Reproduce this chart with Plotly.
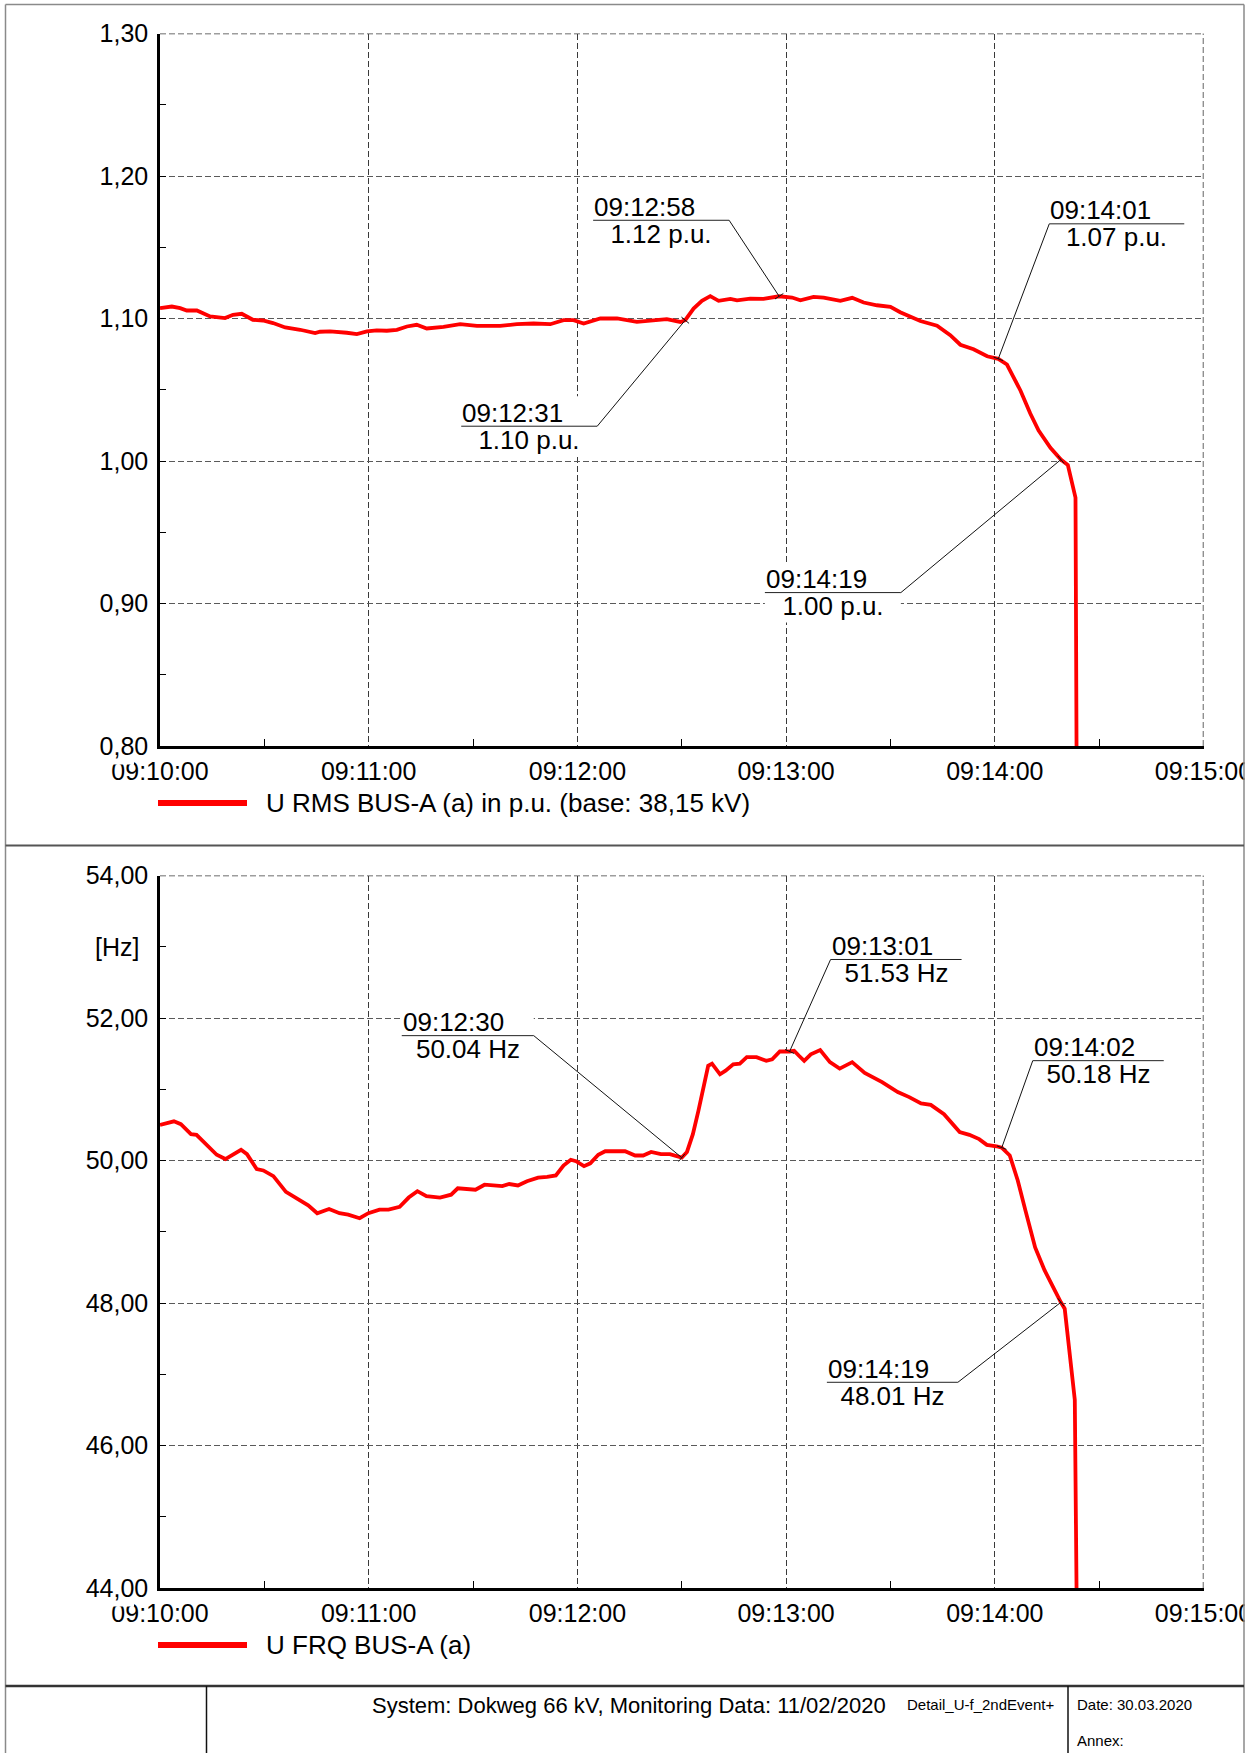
import math
import pandas as pd
import plotly.graph_objects as go

# ---------------------------------------------------------------- data
START = "2020-02-11 09:10:00"

# U RMS BUS-A (a), seconds after 09:10:00 and value in p.u.
u_seconds = [0, 3.4, 5.8, 7.7, 10.6, 14.4, 18.7, 21.0, 23.5, 26.7,
             29.6, 32.5, 36.0, 40.3, 44.6, 46.0, 48.9, 51.8, 53.7, 56.6,
             59.5, 62.3, 65.2, 68.1, 71.0, 73.8, 76.7, 81.5, 86.3, 91.1,
             97.8, 102.6, 107.4, 112.2, 116.0, 118.9, 121.8, 126.6, 131.4, 137.1,
             141.9, 145.7, 149.6, 151, 153.4, 155.8, 158.2, 160.6, 164.0, 165.9,
             169.7, 173.5, 178, 181.7, 184.1, 187.9, 190.8, 195.6, 199.0, 202.3,
             206.1, 210.0, 212.8, 218.6, 223.4, 227.2, 230.1, 233.9, 237.8, 241,
             243.5, 247.4, 250.2, 252.6, 256.0, 259, 261.0, 263.2, 263.5]
u_pu = [1.1073, 1.1084, 1.1073, 1.1056, 1.1056, 1.1014, 1.1003, 1.1026, 1.1033, 1.0991,
        1.0986, 1.0968, 1.0937, 1.0921, 1.0898, 1.0907, 1.0909, 1.0905, 1.0900, 1.0891,
        1.0909, 1.0916, 1.0914, 1.0920, 1.0944, 1.0956, 1.0930, 1.0941, 1.0960, 1.0948,
        1.0948, 1.0960, 1.0965, 1.0960, 1.0988, 1.0988, 1.0965, 1.1000, 1.1000, 1.0976,
        1.0988, 1.0995, 1.0976, 1.0988, 1.1070, 1.1124, 1.1157, 1.1124, 1.1138, 1.1128,
        1.1140, 1.1138, 1.1156, 1.1147, 1.1128, 1.1152, 1.1147, 1.1124, 1.1145, 1.1112,
        1.1093, 1.1082, 1.1044, 1.0982, 1.0950, 1.0883, 1.0816, 1.0784, 1.0735, 1.0717,
        1.0677, 1.0493, 1.0333, 1.0213, 1.0092, 1.0010, 0.9972, 0.9743, 0.8000]

# U FRQ BUS-A (a), seconds after 09:10:00 and value in Hz
f_seconds = [0, 4.0, 6.0, 8.9, 10.5, 13.7, 16.3, 18.8, 20.7, 23.3,
             25.0, 27.8, 29.7, 32.6, 36.2, 40.0, 42.6, 45.2, 48.6, 51.6,
             54.1, 57.4, 59.9, 63.1, 65.7, 68.9, 71.5, 74.0, 76.6, 80.5,
             83.7, 85.6, 90.7, 93.3, 98.4, 100.4, 102.9, 105.5, 108.7, 111.3,
             113.8, 116.0, 118.1, 119.6, 121.9, 123.7, 126.0, 128.0, 133.7, 136.6,
             138.9, 141.2, 144.0, 146.6, 150, 151.5, 153.2, 154.8, 156.5, 157.6,
             158.7, 161.0, 162.6, 164.8, 166.7, 168.7, 171.5, 174.3, 176.0, 178.2,
             181, 182.3, 183.7, 185.2, 187.1, 189.8, 192.6, 195.4, 199.0, 202.6,
             207.6, 212.1, 215.4, 218.8, 221.6, 225.4, 229.9, 232.7, 235.5, 237.7,
             240.5, 242, 244.3, 246.6, 248.8, 251.6, 254.3, 257.1, 259, 260.1,
             261.6, 263.0, 263.5]
f_hz = [50.50, 50.55, 50.51, 50.37, 50.36, 50.20, 50.08, 50.02, 50.08, 50.15,
        50.09, 49.88, 49.86, 49.78, 49.56, 49.44, 49.37, 49.26, 49.32, 49.26,
        49.24, 49.19, 49.26, 49.31, 49.31, 49.35, 49.48, 49.57, 49.50, 49.48,
        49.52, 49.61, 49.59, 49.66, 49.64, 49.67, 49.65, 49.71, 49.76, 49.77,
        49.79, 49.93, 50.01, 49.99, 49.92, 49.96, 50.08, 50.13, 50.13, 50.07,
        50.07, 50.12, 50.09, 50.09, 50.04, 50.12, 50.37, 50.70, 51.10, 51.33,
        51.36, 51.21, 51.26, 51.35, 51.36, 51.45, 51.45, 51.40, 51.42, 51.53,
        51.53, 51.54, 51.47, 51.40, 51.49, 51.55, 51.38, 51.29, 51.38, 51.23,
        51.10, 50.96, 50.89, 50.80, 50.78, 50.65, 50.40, 50.36, 50.30, 50.22,
        50.20, 50.18, 50.07, 49.72, 49.30, 48.78, 48.46, 48.18, 48.01, 47.92,
        47.20, 46.64, 44.00]

assert len(u_seconds) == len(u_pu)
assert len(f_seconds) == len(f_hz)

# marked samples (seconds after 09:10:00)
u_marked = [151, 178, 241, 259]
f_marked = [150, 181, 242, 259]

u_legend = "U RMS BUS-A (a) in p.u. (base: 38,15 kV)"
f_legend = "U FRQ BUS-A (a)"
u_ticks = [0.80, 0.90, 1.00, 1.10, 1.20, 1.30]
f_ticks = [44, 46, 48, 50, 52, 54]
footer_system = "System: Dokweg 66 kV, Monitoring Data: 11/02/2020"
footer_file = "Detail_U-f_2ndEvent+"
footer_date = "Date: 30.03.2020"
footer_annex = "Annex:"

# ---------------------------------------------------------------- layout constants
W, H = 1256, 1753
FONT = "Liberation Sans, Arial, sans-serif"
RED = "#ff0000"
VGRID = "#3a3a3a"
HGRID = "#5a5a5a"
DASH = "6px,3px"


def px(x):
    return x / W


def py(y):
    return 1 - y / H


t0 = pd.Timestamp(START)


def stamps(secs):
    return [t0 + pd.Timedelta(seconds=s) for s in secs]


u_t = stamps(u_seconds)
f_t = stamps(f_seconds)

X_DOMAIN = [px(160), px(1203.5)]
TOP_DOMAIN = [py(746), py(33.5)]
BOT_DOMAIN = [py(1588), py(875.5)]

fig = go.Figure()
fig.add_trace(go.Scatter(x=u_t, y=u_pu, mode="lines", name=u_legend,
                         line=dict(color=RED, width=3.8), xaxis="x", yaxis="y",
                         showlegend=False))
fig.add_trace(go.Scatter(x=f_t, y=f_hz, mode="lines", name=f_legend,
                         line=dict(color=RED, width=3.8), xaxis="x2", yaxis="y2",
                         showlegend=False))

x_range = [t0, t0 + pd.Timedelta(minutes=5)]


def xaxis_style(anchor):
    return dict(
        domain=X_DOMAIN, anchor=anchor, type="date", range=x_range,
        tick0=t0, dtick=60000, tickformat="%H:%M:%S",
        showgrid=True, gridcolor=VGRID, gridwidth=1, griddash=DASH,
        showline=True, linecolor="black", linewidth=2.5,
        ticks="", ticklabelstandoff=1, automargin=False,
        minor=dict(dtick=30000, tick0=t0, ticks="inside", ticklen=7,
                   tickcolor="black", tickwidth=1, showgrid=False),
        tickfont=dict(family=FONT, size=25, color="black"),
        zeroline=False, fixedrange=True,
    )


def yaxis_style(anchor, domain, rng, dtick, minor_dtick):
    return dict(
        domain=domain, anchor=anchor, range=rng, dtick=dtick, tick0=rng[0],
        tickformat=".2f",
        showgrid=True, gridcolor=HGRID, gridwidth=1, griddash=DASH,
        showline=True, linecolor="black", linewidth=2.5,
        ticks="inside", ticklen=6, tickcolor="black", tickwidth=1,
        ticklabelstandoff=4, automargin=False,
        minor=dict(dtick=minor_dtick, ticks="inside", ticklen=6,
                   tickcolor="black", tickwidth=1, showgrid=False),
        tickfont=dict(family=FONT, size=25, color="black"),
        zeroline=False, fixedrange=True,
    )


fig.update_layout(
    width=W, height=H, autosize=False,
    margin=dict(l=0, r=0, t=0, b=0, pad=0, autoexpand=False),
    paper_bgcolor="white", plot_bgcolor="white",
    separators=",.",
    font=dict(family=FONT, color="black"),
    showlegend=False,
    xaxis=xaxis_style("y"),
    yaxis=yaxis_style("x", TOP_DOMAIN, [min(u_ticks), max(u_ticks)], 0.1, 0.05),
    xaxis2=xaxis_style("y2"),
    yaxis2=yaxis_style("x2", BOT_DOMAIN, [min(f_ticks), max(f_ticks)], 2, 1),
)

shapes = []
annotations = []

# grid lines along the far edges of each panel (top value, last minute)
for xr, yr, top in (("x", "y", max(u_ticks)), ("x2", "y2", max(f_ticks))):
    shapes.append(dict(type="line", xref=f"{xr} domain", yref=yr, x0=0, x1=1,
                       y0=top, y1=top, layer="above",
                       line=dict(color="#3c3c3c", width=1.4, dash=DASH)))
    shapes.append(dict(type="line", xref=xr, yref=f"{yr} domain", x0=x_range[1],
                       x1=x_range[1], y0=0, y1=1, layer="above",
                       line=dict(color="#222222", width=1.4, dash=DASH)))

# callout geometry: elbow offset from the marked sample (px, +y up),
# underline length and the side the underline runs to from the elbow
u_callout_geom = [(-88, -106, 136, "left"), (-50, 76, 136, "left"),
                  (51, 135, 135, "right"), (-160, -133, 136, "left")]
f_callout_geom = [(-148, 122, 132, "left"), (41, 92, 131, "right"),
                  (31, 87, 131, "right"), (-103, -80, 131, "left")]


def add_callouts(times, values, marked, unit, fmt, geom, xr, yr):
    for sec, (dx, dy, length, side) in zip(marked, geom):
        i = times.index(sec)
        x_at = t0 + pd.Timedelta(seconds=sec)
        v = values[i]
        ux0 = dx - length if side == "left" else dx
        ux1 = ux0 + length
        anchor = dict(xref=xr, yref=yr, xsizemode="pixel", ysizemode="pixel",
                      xanchor=x_at, yanchor=v)
        # white label field that interrupts the grid behind the text
        shapes.append(dict(anchor, type="rect", x0=ux0, x1=ux1, y0=dy - 30,
                           y1=dy + 30, fillcolor="white", line=dict(width=0),
                           layer="between"))
        line = dict(anchor, type="line", layer="above")
        # leader, small cross tick at the sample, underline
        shapes.append(dict(line, x0=0, y0=0, x1=dx, y1=dy,
                           line=dict(color="#111111", width=1)))
        norm = math.hypot(dx, dy)
        nx, ny = -dy / norm * 5, dx / norm * 5
        shapes.append(dict(line, x0=-nx, y0=-ny, x1=nx, y1=ny,
                           line=dict(color="#111111", width=1)))
        shapes.append(dict(line, x0=ux0, y0=dy, x1=ux1, y1=dy,
                           line=dict(color="#222222", width=1)))
        label_time = x_at.strftime("%H:%M:%S")
        annotations.append(dict(
            x=x_at, y=v, xref=xr, yref=yr, text=label_time, showarrow=False,
            xanchor="left", yanchor="bottom", xshift=ux0, yshift=dy - 2.5,
            width=length - 2, align="left", borderpad=0,
            font=dict(family=FONT, size=26, color="black")))
        annotations.append(dict(
            x=x_at, y=v, xref=xr, yref=yr, text=f"{v:{fmt}} {unit}", showarrow=False,
            xanchor="left", yanchor="top", xshift=ux0, yshift=dy + 2.5,
            width=length - 2, align="center", borderpad=0,
            font=dict(family=FONT, size=26, color="black")))


add_callouts(u_seconds, u_pu, u_marked, "p.u.", ".2f", u_callout_geom, "x", "y")
add_callouts(f_seconds, f_hz, f_marked, "Hz", ".2f", f_callout_geom, "x2", "y2")

# unit label on the frequency axis
annotations.append(dict(x=px(141), y=53, xref="paper", yref="y2", text="[Hz]",
                        showarrow=False, xanchor="right", yanchor="middle",
                        font=dict(family=FONT, size=25, color="black")))

# legends drawn below each panel
for ly, label in ((803, u_legend), (1645, f_legend)):
    shapes.append(dict(type="line", xref="paper", yref="paper",
                       x0=px(158), x1=px(247), y0=py(ly), y1=py(ly),
                       line=dict(color=RED, width=6)))
    annotations.append(dict(x=px(264), y=py(ly), xref="paper", yref="paper",
                            text=label, showarrow=False, xanchor="left",
                            yanchor="middle",
                            font=dict(family=FONT, size=26, color="black")))


def prect(x0, y0, x1, y1):
    shapes.append(dict(type="rect", xref="paper", yref="paper", x0=px(x0), x1=px(x1),
                       y0=py(y1), y1=py(y0), fillcolor="white", line=dict(width=0),
                       layer="above"))


# the lowest value label sits over the first time label of each panel
prect(104, 759.5, 134, 764.5)
prect(104, 1601.5, 134, 1606.5)

# sheet frame and title block
prect(1244.5, 0, W, H)


def pline(x0, y0, x1, y1, color, width):
    shapes.append(dict(type="line", xref="paper", yref="paper", x0=px(x0), y0=py(y0),
                       x1=px(x1), y1=py(y1), line=dict(color=color, width=width),
                       layer="above"))


pline(5.5, 4.5, 1244, 4.5, "#8a8a8a", 1.5)
pline(5.5, 4.5, 5.5, H, "#8a8a8a", 1.5)
pline(1244, 4.5, 1244, H, "#8a8a8a", 1.5)
pline(5.5, 845.5, 1244, 845.5, "#555555", 2)
pline(5.5, 1686, 1244, 1686, "#333333", 2.5)
pline(206.5, 1686, 206.5, H, "#111111", 1.5)
pline(1068, 1686, 1068, H, "#111111", 1.5)

annotations += [
    dict(x=px(370), y=py(1705), xref="paper", yref="paper", text=footer_system,
         showarrow=False, xanchor="left", yanchor="middle",
         font=dict(family=FONT, size=22, color="black")),
    dict(x=px(905), y=py(1704), xref="paper", yref="paper", text=footer_file,
         showarrow=False, xanchor="left", yanchor="middle",
         font=dict(family=FONT, size=15, color="black")),
    dict(x=px(1075), y=py(1704), xref="paper", yref="paper", text=footer_date,
         showarrow=False, xanchor="left", yanchor="middle",
         font=dict(family=FONT, size=15, color="black")),
    dict(x=px(1075), y=py(1740), xref="paper", yref="paper", text=footer_annex,
         showarrow=False, xanchor="left", yanchor="middle",
         font=dict(family=FONT, size=15, color="black")),
]

fig.update_layout(shapes=shapes, annotations=annotations)
fig.write_html("out.html")
